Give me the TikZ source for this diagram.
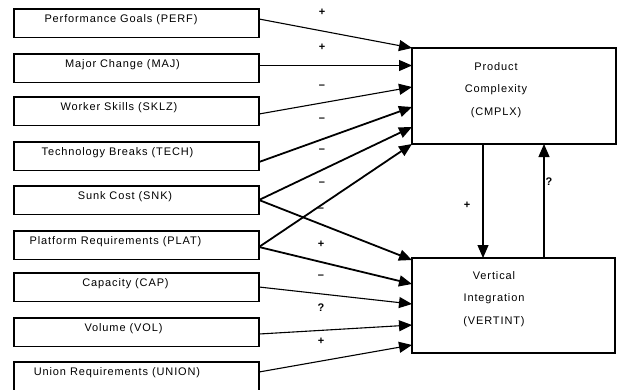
\documentclass[tikz,border=0pt]{standalone}
\usepackage{fontspec}
\setmainfont{Liberation Sans}[LetterSpace=8]
\usetikzlibrary{arrows.meta}
\begin{document}
\begin{tikzpicture}[x=1pt,y=-1pt,
  lbox/.style={draw,line width=1.5pt,minimum width=245pt,minimum height=28.5pt,inner sep=0pt,outer sep=0pt,anchor=north west},
  rbox/.style={draw,line width=1.5pt,inner sep=0pt,outer sep=0pt,anchor=north west},
  ltext/.style={anchor=base,inner sep=0pt,font=\fontsize{11pt}{13pt}\selectfont},
  btext/.style={anchor=north,inner sep=0pt,align=center,font=\fontsize{11pt}{22.5pt}\selectfont},
  sign/.style={anchor=base,inner sep=0pt,font=\fontsize{11pt}{13pt}\selectfont\bfseries},
  arr/.style={line width=1.1pt,-{Triangle[length=13pt,width=11pt]}},
  tarr/.style={line width=1.8pt,-{Triangle[length=13pt,width=11pt]}}
]
\useasboundingbox (0,0) rectangle (617,389);

% left boxes
\node[lbox] (perf)  at (14,9)   {};
\node[lbox] (maj)   at (14,54)  {};
\node[lbox] (sklz)  at (14,97)  {};
\node[lbox] (tech)  at (14,142) {};
\node[lbox] (snk)   at (14,186) {};
\node[lbox] (plat)  at (14,231) {};
\node[lbox] (cap)   at (14,273) {};
\node[lbox] (vol)   at (14,318) {};
\node[lbox,minimum height=34pt] (union) at (14,362) {};

\node[ltext] (perfT)  at (121,22.5)  {Performance Goals (PERF)};
\node[ltext] (majT)   at (122.5,67.5) {Major Change (MAJ)};
\node[ltext] (sklzT)  at (119,110.5)  {Worker Skills (SKLZ)};
\node[ltext] (techT)  at (117.5,155.5) {Technology Breaks (TECH)};
\node[ltext] (snkT)   at (125,199.5)  {Sunk Cost (SNK)};
\node[ltext] (platT)  at (115.5,244.5) {Platform Requirements (PLAT)};
\node[ltext] (capT)   at (125.5,286.5) {Capacity (CAP)};
\node[ltext] (volT)   at (123.5,331.5) {Volume (VOL)};
\node[ltext] (unionT) at (117,375.5)  {Union Requirements (UNION)};

% right boxes
\node[rbox,minimum width=204pt,minimum height=96pt] (cmplx) at (412,48) {};
\node[rbox,minimum width=203pt,minimum height=95pt] (vert)  at (412,258) {};
\node[btext] (cmplxT) at (496,62)  {Product\\Complexity\\(CMPLX)};
\node[btext] (vertT)  at (494,271) {Vertical\\Integration\\(VERTINT)};

% connectors to CMPLX
\draw[arr]  ([yshift=-10pt]perf.north east) -- (cmplx.north west);
\draw[arr]  ([yshift=-11.5pt]maj.north east) -- ([yshift=-17.5pt]cmplx.north west);
\draw[arr]  ([yshift=-17pt]sklz.north east) -- ([yshift=-39pt]cmplx.north west);
\draw[tarr] ([yshift=-20pt]tech.north east) -- ([yshift=-59pt]cmplx.north west);
\draw[tarr] ([yshift=-14pt]snk.north east) -- ([yshift=-79pt]cmplx.north west);
\draw[tarr] ([yshift=-16pt]plat.north east) -- (cmplx.south west);
% connectors to VERTINT
\draw[tarr] ([yshift=-14pt]snk.north east) -- ([yshift=-2pt]vert.north west);
\draw[tarr] ([yshift=-16pt]plat.north east) -- ([yshift=-26pt]vert.north west);
\draw[arr]  ([yshift=-14pt]cap.north east) -- ([yshift=-46pt]vert.north west);
\draw[arr]  ([yshift=-16pt]vol.north east) -- ([yshift=-67pt]vert.north west);
\draw[arr]  ([yshift=-10pt]union.north east) -- ([yshift=-87pt]vert.north west);
% between the two
\draw[arr] ([xshift=71pt]cmplx.south west) -- ([xshift=71pt]vert.north west);
\draw[arr] ([xshift=132pt]vert.north west) -- ([xshift=132pt]cmplx.south west);

% signs
\node[sign] (s1)  at (322,15)  {+};
\node[sign] (s2)  at (322,50)  {+};
\node[sign] (s3)  at (322,88)  {--};
\node[sign] (s4)  at (322,121) {--};
\node[sign] (s5)  at (322,152) {--};
\node[sign] (s6)  at (322,185) {--};
\node[sign] (s7)  at (321,211) {--};
\node[sign] (s8)  at (321,247) {+};
\node[sign] (s9)  at (321,278) {--};
\node[sign] (s10) at (321,311) {?};
\node[sign] (s11) at (321,344) {+};
\node[sign] (s12) at (467,208) {+};
\node[sign] (s13) at (549,185) {?};
\end{tikzpicture}
\end{document}
